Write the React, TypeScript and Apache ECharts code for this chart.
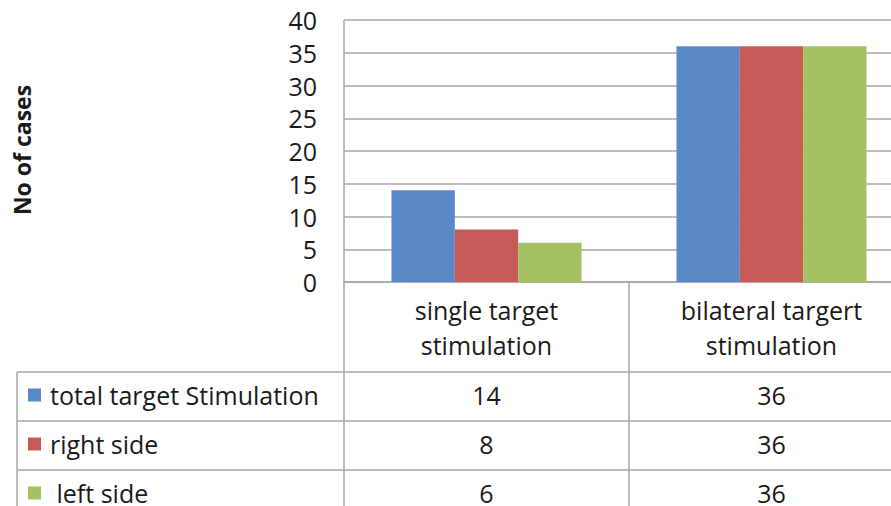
import React, { useEffect, useRef } from "react";
import * as echarts from "echarts";

const categories = ["single target\nstimulation", "bilateral targert\nstimulation"];
const seriesNames = ["total target Stimulation", "right side", " left side"];
const totalTarget = [14, 36];
const rightSide = [8, 36];
const leftSide = [6, 36];
const seriesColors = ["#5A8AC6", "#C75B58", "#A5C262"];
const yTicks = { min: 0, max: 40, interval: 5 };
const yTitle = "No of cases";

const FONT = "'Open Sans', sans-serif";
const FS = 25;
const LINE = "#A6A6A6";
const TXT = "#1a1a1a";

export default function App() {
  const ref = useRef<HTMLDivElement>(null);
  useEffect(() => {
    if (!ref.current) return;
    const chart = echarts.init(ref.current, null, { renderer: "svg" });
    const values = [totalTarget, rightSide, leftSide];
    chart.setOption({
      animation: false,
      grid: { left: 344, top: 20, width: 570, bottom: 224, containLabel: false, outerBoundsMode: "none" },
      xAxis: {
        type: "category",
        data: categories,
        axisLine: { show: true, lineStyle: { color: LINE, width: 1.5 } },
        axisTick: { show: false },
        axisLabel: {
          fontFamily: FONT,
          fontSize: FS,
          color: TXT,
          lineHeight: 35,
          margin: 10,
        },
      },
      yAxis: {
        type: "value",
        min: yTicks.min,
        max: yTicks.max,
        interval: yTicks.interval,
        axisLine: { show: false },
        axisTick: { show: false },
        splitLine: { lineStyle: { color: LINE, width: 1.5 } },
        axisLabel: { fontFamily: FONT, fontSize: FS, color: TXT, margin: 27 },
      },
      series: values.map((v, i) => ({
        type: "bar",
        name: seriesNames[i],
        data: v,
        barGap: "0%",
        barCategoryGap: "33.3%",
        itemStyle: { color: seriesColors[i] },
      })),
    });

    const xc = categories.map((c) => chart.convertToPixel({ xAxisIndex: 0 }, c) as number);
    const rowYs = [372, 421, 470];
    const rowH = 49;
    const elements: any[] = [];
    elements.push({ type: "line", shape: { x1: 344, y1: 20, x2: 344, y2: 506 }, style: { stroke: LINE, lineWidth: 1.5 } });
    elements.push({ type: "line", shape: { x1: 629, y1: 282, x2: 629, y2: 506 }, style: { stroke: LINE, lineWidth: 1.5 } });
    elements.push({ type: "line", shape: { x1: 17, y1: 372, x2: 17, y2: 506 }, style: { stroke: LINE, lineWidth: 1.5 } });
    rowYs.forEach((y) => {
      elements.push({ type: "line", shape: { x1: 17, y1: y, x2: 891, y2: y }, style: { stroke: LINE, lineWidth: 1.5 } });
    });
    values.forEach((v, i) => {
      const cy = rowYs[i] + rowH / 2 - 2;
      elements.push({ type: "rect", shape: { x: 28, y: cy - 6, width: 13, height: 13 }, style: { fill: seriesColors[i] } });
      elements.push({
        type: "text",
        x: 50,
        y: cy,
        style: { text: seriesNames[i], font: `${FS}px ${FONT}`, fill: TXT, verticalAlign: "middle", align: "left" },
      });
      v.forEach((val, j) => {
        elements.push({
          type: "text",
          x: xc[j],
          y: cy,
          style: { text: String(val), font: `${FS}px ${FONT}`, fill: TXT, verticalAlign: "middle", align: "center" },
        });
      });
    });
    elements.push({
      type: "text",
      x: 22,
      y: 150,
      rotation: Math.PI / 2,
      style: { text: yTitle, font: `bold 23px ${FONT}`, fill: TXT, align: "center", verticalAlign: "middle" },
    });
    chart.setOption({ graphic: elements });
    return () => chart.dispose();
  }, []);
  return <div ref={ref} style={{ width: 891, height: 506, position: "absolute", left: 0, top: 0, background: "#fff" }} />;
}
